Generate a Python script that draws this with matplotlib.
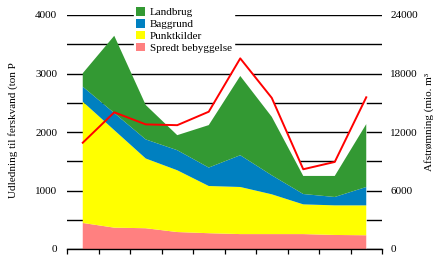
import numpy as np
import matplotlib
matplotlib.use("Agg")
import matplotlib.pyplot as plt
from matplotlib.patches import Patch

# udledning af fosfor til ferskvand (ton P), 10 år uden årstal på aksen
periode = np.arange(10)
spredt = [445, 365, 355, 290, 270, 255, 255, 255, 240, 235]
punktkilder = [2073, 1667, 1192, 1056, 807, 805, 680, 508, 506, 511]
baggrund = [257, 292, 326, 343, 315, 543, 325, 177, 143, 314]
landbrug = [230, 1321, 588, 257, 726, 1355, 1000, 309, 360, 1075]

# afstrømning (mio. m3), højre akse
afstroemning = [10900, 14020, 12780, 12700, 14080, 19550, 15500, 8180, 8930, 15560]

navne = ["Spredt bebyggelse", "Punktkilder", "Baggrund", "Landbrug"]
farver = ["#ff8080", "#ffff00", "#0080c0", "#339933"]
skala = 6  # 4000 ton P svarer til 24000 mio. m3

plt.rcParams['font.family'] = ['Liberation Serif', 'DejaVu Serif']
plt.rcParams['font.size'] = 8

fig = plt.figure(figsize=(4.33, 2.63), dpi=100)
ax = fig.add_axes([67 / 433, 1 - 249 / 263, (382 - 67) / 433, (249 - 15) / 263])

# hvid flade under afstrømningskurven skjuler gitterlinjerne
afs_venstre = np.array(afstroemning) / skala
ax.fill_between(periode, afs_venstre, 0, color="white", lw=0, zorder=1)
ax.stackplot(periode, spredt, punktkilder, baggrund, landbrug,
             colors=farver, lw=0, zorder=2)
ax.plot(periode, afs_venstre, color="#ff0000", lw=1.4, zorder=3)

ax.set_xlim(-0.5, 9.5)
ax.set_ylim(0, 4000)
ax.set_xticks(np.arange(-0.5, 10, 1))
ax.set_xticklabels([])
ax.tick_params(axis="x", direction="out", length=3.5, width=0.9, color="black")

yt = np.arange(0, 4001, 500)
ax.set_yticks(yt)
ax.set_yticklabels([str(v) if v % 1000 == 0 else "" for v in yt])
ax.tick_params(axis="y", length=0, pad=7)
ax.yaxis.grid(True, color="black", lw=1.0)
ax.set_axisbelow(True)

for s in ["left", "right", "top"]:
    ax.spines[s].set_visible(False)
ax.spines["bottom"].set_linewidth(1.0)

ax2 = ax.secondary_yaxis("right", functions=(lambda v: v * skala, lambda v: v / skala))
ax2.set_yticks(np.arange(0, 24001, 6000))
ax2.tick_params(length=0, pad=6)
ax2.spines["right"].set_visible(False)

fig.text(13 / 433, 1 - 130 / 263, "Udledning til ferskvand (ton P",
         rotation=90, ha="center", va="center")
fig.text(429 / 433, 1 - 122 / 263, "Afstrømning (mio. m³",
         rotation=90, ha="center", va="center")

handles = [Patch(facecolor=farver[i], edgecolor="none", label=navne[i]) for i in [3, 2, 1, 0]]
fig.legend(handles=handles, loc="upper left", bbox_to_anchor=(134 / 433, 1 - 5 / 263),
           frameon=True, fancybox=False, edgecolor="white", facecolor="white", framealpha=1,
           handlelength=0.8, handleheight=0.8, handletextpad=0.4, labelspacing=0.15,
           borderpad=0.2, borderaxespad=0)

fig.savefig("out.png", dpi=100)
